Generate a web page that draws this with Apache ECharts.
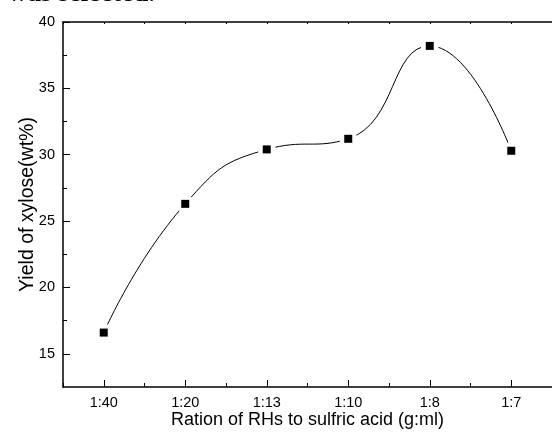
<!DOCTYPE html>
<html>
<head>
<meta charset="utf-8">
<script src="https://cdn.jsdelivr.net/npm/echarts@6/dist/echarts.min.js"></script>
<style>html,body{margin:0;padding:0;background:#fff;}#c{width:552px;height:438px;}</style>
</head>
<body>
<div id="c"></div>
<script>
var categories = ['1:40', '1:20', '1:13', '1:10', '1:8', '1:7'];
var yieldValues = [16.6, 26.3, 30.4, 31.2, 38.2, 30.3];
var yMajorTicks = [15, 20, 25, 30, 35, 40];
var yMinorTicks = [17.5, 22.5, 27.5, 32.5, 37.5];
var xAxisName = 'Ration of RHs to sulfric acid (g:ml)';
var yAxisName = 'Yield of xylose(wt%)';
var headText = 'was selected.';

var FONT = '"Liberation Sans", Arial, sans-serif';
var chart = echarts.init(document.getElementById('c'), null, {renderer: 'canvas'});
var lineStyle = {color: '#000', width: 1.5};
function catAxis(pos, align, len, showLine, showLabel, name) {
  return {
    type: 'category', data: categories, position: pos, boundaryGap: true,
    axisLine: {show: showLine, lineStyle: lineStyle},
    axisTick: {show: true, inside: true, alignWithLabel: align, length: len, lineStyle: {color: '#000', width: 1}},
    axisLabel: {show: showLabel, color: '#000', fontFamily: FONT, fontSize: 14.5, margin: 8},
    splitLine: {show: false},
    name: name || '', nameLocation: 'middle', nameGap: 24, nameMoveOverlap: false,
    nameTextStyle: {color: '#000', fontFamily: FONT, fontSize: 18}
  };
}
function valAxis(ticks, len, showLine, showLabel, name) {
  return {
    type: 'value', position: 'left', min: 12.5, max: 40, interval: 2.5,
    axisLine: {show: showLine, lineStyle: lineStyle},
    axisTick: {show: true, inside: true, length: len, customValues: ticks, lineStyle: {color: '#000', width: 1}},
    axisLabel: {show: showLabel, customValues: ticks, color: '#000', fontFamily: FONT, fontSize: 14.5, margin: 8},
    splitLine: {show: false},
    name: name || '', nameLocation: 'middle', nameGap: 25, nameRotate: 90, nameMoveOverlap: false,
    nameTextStyle: {color: '#000', fontFamily: FONT, fontSize: 19.5}
  };
}
chart.setOption({
  animation: false,
  backgroundColor: '#fff',
  grid: {left: 63, right: -7, top: 22, bottom: 51, containLabel: false},
  graphic: [{
    type: 'text', left: 8, top: -19, silent: true,
    style: {text: headText, fontFamily: '"Liberation Serif", "Times New Roman", serif', fontSize: 27, fontWeight: 'bold', fill: '#000'}
  }],
  xAxis: [
    catAxis('bottom', true, 7, true, true, xAxisName),
    catAxis('bottom', false, 4, false, false),
    catAxis('top', true, 2, true, false),
    catAxis('top', false, 2, false, false)
  ],
  yAxis: [
    valAxis(yMajorTicks, 7, true, true, yAxisName),
    valAxis(yMinorTicks, 4, false, false)
  ],
  series: [
    {type: 'line', data: yieldValues, smooth: 0.5, symbol: 'none', silent: true,
     lineStyle: {color: '#000', width: 1}, z: 2},
    {type: 'scatter', data: yieldValues, symbol: 'circle', symbolSize: 18, silent: true,
     itemStyle: {color: '#fff', opacity: 1}, z: 3},
    {type: 'scatter', data: yieldValues, symbol: 'rect', symbolSize: 8, silent: true,
     itemStyle: {color: '#000', opacity: 1}, z: 4}
  ]
});
</script>
</body>
</html>
